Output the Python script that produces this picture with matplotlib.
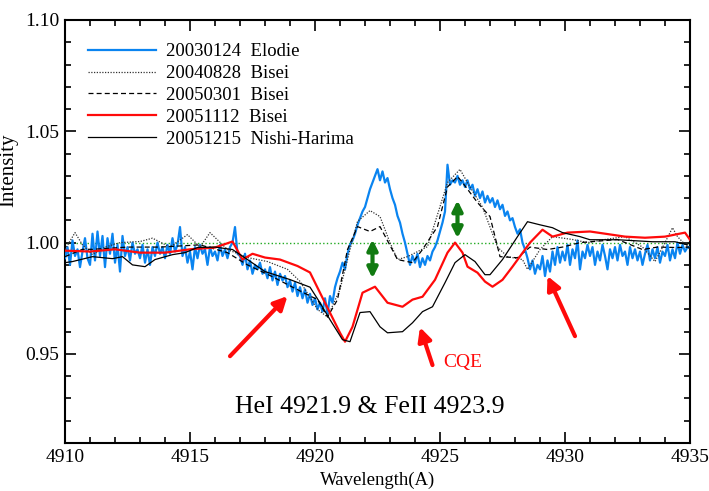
import matplotlib
matplotlib.use("Agg")
import matplotlib.pyplot as plt
import numpy as np
from matplotlib.ticker import MultipleLocator, FormatStrFormatter

plt.rcParams['font.family'] = ['Liberation Serif', 'DejaVu Serif']

# 20030124 Elodie, sampled every 0.1 A from 4910 to 4935
elodie_wl = np.round(np.arange(4910.0, 4935.001, 0.1), 1)
elodie_int = [
    0.993, 0.998, 0.990, 1.001, 0.994, 0.997, 0.989, 0.996, 1.002, 0.993,
    0.990, 1.004, 0.992, 1.005, 0.994, 1.003, 0.989, 1.002, 0.995, 1.004,
    0.991, 0.999, 0.987, 1.003, 0.994, 0.998, 0.992, 1.000, 0.995, 0.997,
    0.993, 0.999, 0.991, 0.997, 0.990, 0.998, 0.994, 1.000, 0.995, 0.998,
    0.993, 0.999, 0.995, 1.002, 0.996, 0.999, 1.007, 0.994, 0.998, 0.991,
    0.996, 0.988, 0.998, 0.993, 0.999, 0.995, 0.997, 0.990, 0.998, 0.994,
    0.996, 0.992, 0.999, 0.994, 0.997, 0.993, 0.998, 1.000, 1.007, 0.995,
    0.994, 0.990, 0.995, 0.988, 0.992, 0.986, 0.990, 0.988, 0.991, 0.986,
    0.988, 0.984, 0.989, 0.983, 0.987, 0.981, 0.986, 0.983, 0.985, 0.980,
    0.983, 0.978, 0.982, 0.976, 0.980, 0.975, 0.979, 0.973, 0.977, 0.972,
    0.975, 0.970, 0.973, 0.969, 0.975, 0.968, 0.976, 0.973, 0.980, 0.984,
    0.987, 0.991, 0.988, 0.995, 0.999, 1.001, 1.004, 1.008, 1.011, 1.014,
    1.016, 1.020, 1.024, 1.027, 1.030, 1.033, 1.028, 1.032, 1.027, 1.029,
    1.024, 1.020, 1.017, 1.012, 1.009, 1.004, 1.000, 0.995, 0.990, 0.994,
    0.991, 0.995, 0.989, 0.993, 0.990, 0.994, 0.992, 0.996, 0.998, 1.001,
    1.005, 1.009, 1.014, 1.035, 1.026, 1.028, 1.027, 1.030, 1.026, 1.028,
    1.025, 1.028, 1.024, 1.026, 1.021, 1.024, 1.020, 1.023, 1.018, 1.021,
    1.018, 1.020, 1.016, 1.019, 1.015, 1.017, 1.012, 1.014, 1.010, 1.011,
    1.007, 1.004, 1.006, 1.000, 0.997, 0.993, 0.988, 0.992, 0.986, 0.990,
    0.988, 0.994, 0.985, 0.992, 0.987, 0.996, 0.990, 0.998, 0.991, 0.996,
    0.992, 0.999, 0.990, 0.997, 0.993, 1.001, 0.988, 0.996, 0.993, 0.999,
    0.994, 0.998, 0.990, 0.996, 0.992, 0.999, 0.994, 0.988, 0.997, 0.993,
    0.998, 0.992, 0.999, 0.994, 0.996, 0.990, 0.998, 0.993, 0.997, 0.992,
    0.996, 0.990, 0.995, 0.999, 0.992, 0.997, 0.993, 0.998, 0.991, 0.996,
    0.994, 0.999, 0.992, 0.997, 0.993, 1.000, 0.995, 0.999, 0.996, 0.998,
    0.998,
]

# 20040828 Bisei (dotted)
bisei04_wl = [4910.0, 4910.4, 4910.7, 4911.1, 4911.6, 4912.2, 4913.0, 4913.5, 4914.2,
              4914.9, 4915.4, 4915.8, 4916.5, 4917.3, 4918.1, 4918.9, 4919.4, 4920.1,
              4920.5, 4921.0, 4921.4, 4921.7, 4922.2, 4922.6, 4923.0, 4923.3, 4923.7,
              4924.5, 4925.3, 4925.8, 4926.2, 4926.7, 4927.3, 4927.7, 4928.3, 4928.5,
              4929.0, 4929.5, 4930.3, 4930.9, 4931.6, 4932.4, 4933.1, 4933.6, 4934.0,
              4934.3, 4934.5, 4935.0]
bisei04_int = [0.9969, 1.0045, 0.9990, 0.9946, 0.9980, 1.0000, 1.0005, 1.0020, 0.9980,
               1.0036, 0.9980, 1.0045, 0.9969, 0.9933, 0.9915, 0.9880, 0.9826, 0.9700,
               0.9666, 0.9790, 0.9969, 1.0095, 1.0144, 1.0117, 1.0000, 0.9924, 0.9937,
               0.9982, 1.0270, 1.0329, 1.0250, 1.0160, 0.9980, 0.9937, 0.9924, 0.9880,
               0.9969, 1.0027, 1.0014, 1.0000, 1.0014, 1.0027, 0.9980, 0.9915, 1.0000,
               1.0067, 1.0027, 0.9969]

# 20050301 Bisei (dashed)
bisei05_wl = [4910.0, 4910.7, 4911.1, 4912.5, 4913.8, 4915.4, 4916.5, 4917.3, 4918.3,
              4919.1, 4920.1, 4920.5, 4920.9, 4921.3, 4921.7, 4922.2, 4922.6, 4923.3,
              4923.9, 4924.3, 4924.9, 4925.3, 4925.7, 4925.9, 4926.5, 4927.0, 4927.4,
              4928.1, 4928.6, 4929.3, 4929.9, 4930.6, 4932.1, 4933.1, 4933.7, 4934.5,
              4935.0]
bisei05_int = [0.9937, 0.9970, 0.9970, 0.9980, 0.9980, 0.9990, 0.9955, 0.9900, 0.9847,
               0.9800, 0.9744, 0.9666, 0.9744, 0.9969, 1.0072, 1.0050, 1.0072, 0.9924,
               0.9910, 0.9969, 1.0072, 1.0250, 1.0297, 1.0270, 1.0180, 1.0117, 0.9937,
               0.9932, 0.9980, 0.9969, 0.9980, 1.0000, 1.0014, 0.9969, 0.9980, 0.9978,
               0.9980]

# 20051112 Bisei (red)
bisei0511_wl = [4910.0, 4911.0, 4912.0, 4913.0, 4914.0, 4915.0, 4916.0, 4916.7, 4917.1,
                4917.5, 4918.0, 4918.6, 4919.3, 4919.8, 4920.2, 4921.0, 4921.2, 4921.5,
                4921.9, 4922.4, 4922.9, 4923.5, 4923.9, 4924.3, 4924.8, 4925.3, 4925.6,
                4925.9, 4926.1, 4926.5, 4926.8, 4927.1, 4927.5, 4927.9, 4928.6, 4929.1,
                4929.5, 4930.1, 4931.0, 4932.4, 4933.2, 4934.0, 4934.8, 4935.0]
bisei0511_int = [0.9964, 0.9960, 0.9970, 0.9955, 0.9955, 0.9970, 0.9978, 1.0005, 0.9924,
                 0.9950, 0.9933, 0.9924, 0.9895, 0.9866, 0.9775, 0.9595, 0.9555, 0.9622,
                 0.9775, 0.9802, 0.9730, 0.9712, 0.9744, 0.9757, 0.9833, 0.9955, 1.0000,
                 0.9955, 0.9892, 0.9865, 0.9825, 0.9802, 0.9833, 0.9892, 1.0000, 1.0058,
                 1.0027, 1.0045, 1.0050, 1.0027, 1.0022, 1.0027, 1.0045, 1.0013]

# 20051215 Nishi-Harima (thin black)
nishi_wl = [4910.0, 4910.3, 4911.1, 4911.9, 4912.3, 4912.7, 4913.2, 4913.6, 4914.3,
            4914.8, 4915.3, 4916.0, 4916.7, 4917.3, 4918.0, 4919.0, 4919.8, 4920.2,
            4920.6, 4921.1, 4921.4, 4921.8, 4922.2, 4922.6, 4922.9, 4923.5, 4923.9,
            4924.3, 4924.7, 4925.2, 4925.6, 4926.0, 4926.4, 4926.8, 4927.0, 4927.5,
            4928.1, 4928.5, 4929.0, 4929.5, 4929.9, 4930.6, 4931.0, 4932.1, 4933.5,
            4934.4, 4934.9]
nishi_int = [0.9910, 0.9915, 0.9937, 0.9928, 0.9937, 0.9900, 0.9892, 0.9924, 0.9946,
             0.9955, 0.9978, 0.9980, 0.9969, 0.9924, 0.9870, 0.9834, 0.9800, 0.9730,
             0.9654, 0.9564, 0.9555, 0.9686, 0.9690, 0.9622, 0.9595, 0.9600, 0.9640,
             0.9690, 0.9712, 0.9820, 0.9910, 0.9946, 0.9915, 0.9856, 0.9856, 0.9924,
             1.0027, 1.0094, 1.0080, 1.0067, 1.0045, 1.0027, 1.0013, 1.0013, 1.0004,
             1.0004, 0.9990]

fig = plt.figure(figsize=(7.09, 4.91), dpi=100)
ax = fig.add_axes([65 / 709, 48 / 491, 625 / 709, 423 / 491])

ax.axhline(1.0, color='#22aa22', lw=1.0, ls=':', zorder=1)
ax.plot(elodie_wl, elodie_int, color='#0a84f0', lw=1.6, label='20030124  Elodie', zorder=3)
ax.plot(bisei04_wl, bisei04_int, color='#333333', lw=0.9, ls=(0, (1, 1.2)),
        label='20040828  Bisei', zorder=4)
ax.plot(bisei05_wl, bisei05_int, color='black', lw=0.9, ls=(0, (4, 2.5)),
        label='20050301  Bisei', zorder=4)
ax.plot(bisei0511_wl, bisei0511_int, color='#ff0a0a', lw=1.6, label='20051112  Bisei', zorder=5)
ax.plot(nishi_wl, nishi_int, color='black', lw=0.9, label='20051215  Nishi-Harima', zorder=5)

# red arrows
for tail, head in [((4916.6, 0.949), (4918.9, 0.976)),
                   ((4924.7, 0.945), (4924.2, 0.962)),
                   ((4930.4, 0.958), (4929.3, 0.985))]:
    ax.annotate('', xy=head, xytext=tail,
                arrowprops=dict(arrowstyle='-|>', color='#ff0a0a', lw=3,
                                mutation_scale=20, shrinkA=0, shrinkB=0))

# green double arrows
for x, y0, y1 in [(4922.3, 0.9840, 1.0014), (4925.7, 1.0020, 1.0190)]:
    ax.annotate('', xy=(x, y1), xytext=(x, y0),
                arrowprops=dict(arrowstyle='<|-|>', color='#117a11', lw=3,
                                mutation_scale=15, shrinkA=0, shrinkB=0))

ax.text(4925.15, 0.946, 'CQE', color='#ff0a0a', fontsize=14, va='center', ha='left')
ax.text(4922.2, 0.926, 'HeI 4921.9 & FeII 4923.9', fontsize=18.5, ha='center', va='center')

ax.set_xlim(4910, 4935)
ax.set_ylim(0.91, 1.10)
ax.xaxis.set_major_locator(MultipleLocator(5))
ax.xaxis.set_minor_locator(MultipleLocator(1))
ax.yaxis.set_major_locator(MultipleLocator(0.05))
ax.yaxis.set_minor_locator(MultipleLocator(0.01))
ax.yaxis.set_major_formatter(FormatStrFormatter('%.2f'))
ax.tick_params(which='both', direction='in', top=True, right=True, width=1.2)
ax.tick_params(which='major', length=8, labelsize=14, pad=4)
ax.tick_params(which='minor', length=4)
for sp in ax.spines.values():
    sp.set_linewidth(1.5)

ax.set_xlabel('Wavelength(A)', fontsize=13.5, va='top')
ax.xaxis.set_label_coords(0.5, -0.068)
ax.set_ylabel('Intensity', fontsize=15)
ax.yaxis.set_label_coords(-0.075, 0.645)

ax.legend(loc='upper left', bbox_to_anchor=(0.037, 0.945), frameon=False, fontsize=13.5,
          handlelength=3.6, handletextpad=0.55, labelspacing=0.25, borderaxespad=0,
          borderpad=0)

fig.savefig('out.png', dpi=100)
